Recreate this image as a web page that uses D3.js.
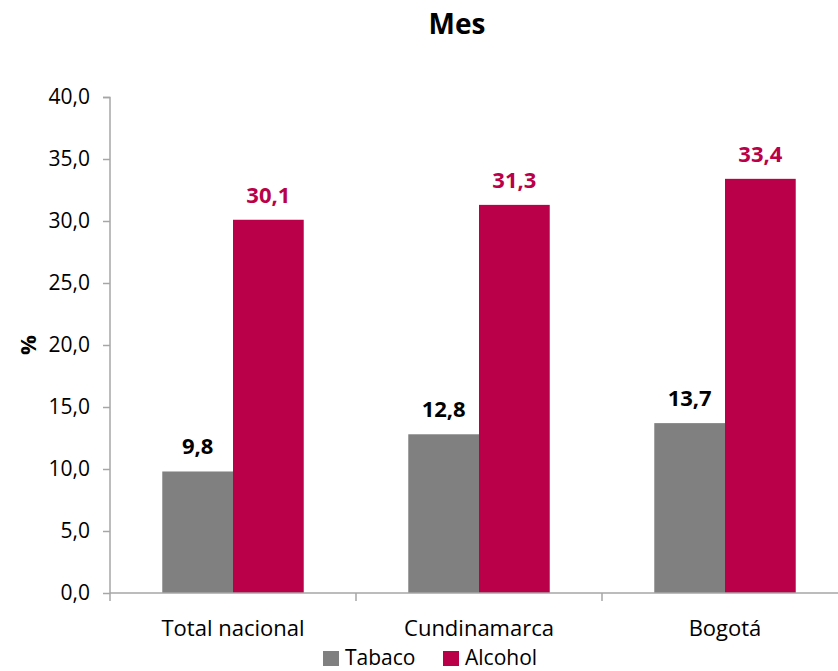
<!DOCTYPE html>
<html><head><meta charset="utf-8">
<script src="https://cdn.jsdelivr.net/npm/d3@7"></script>
<style>body{margin:0;background:#fff}svg{display:block}text{font-family:"Open Sans","Noto Sans",sans-serif}</style>
</head><body>
<svg id="c" width="838" height="671"></svg>
<script>
const categories = ["Total nacional", "Cundinamarca", "Bogotá"];
const seriesNames = ["Tabaco", "Alcohol"];
const tabaco = [9.8, 12.8, 13.7];
const alcohol = [30.1, 31.3, 33.4];
const yTicks = [0, 5, 10, 15, 20, 25, 30, 35, 40];
const colors = {Tabaco: "#808080", Alcohol: "#BA0049"};
const labelColors = {Tabaco: "#000000", Alcohol: "#BA0049"};

const svg = d3.select("#c");
const fmt = v => d3.format(".1f")(v).replace(".", ",");

const x = d3.scaleBand().domain(categories).range([110, 848]).padding(0);
const y = d3.scaleLinear().domain([0, 40]).range([593, 97]);
const inner = d3.scaleBand().domain(seriesNames).range([0, x.bandwidth() * 0.575]);
const offset = (x.bandwidth() - x.bandwidth() * 0.575) / 2;

const data = categories.map((c, i) => ({cat: c, Tabaco: tabaco[i], Alcohol: alcohol[i]}));

// bars
const g = svg.append("g");
data.forEach(d => {
  seriesNames.forEach(s => {
    g.append("rect")
      .attr("x", x(d.cat) + offset + inner(s))
      .attr("y", y(d[s]))
      .attr("width", inner.bandwidth())
      .attr("height", y(0) - y(d[s]))
      .attr("fill", colors[s]);
    g.append("text")
      .attr("x", x(d.cat) + offset + inner(s) + inner.bandwidth() / 2)
      .attr("y", y(d[s]) - 17)
      .attr("text-anchor", "middle")
      .attr("font-size", 22).attr("font-weight", "bold")
      .attr("fill", labelColors[s])
      .text(fmt(d[s]));
  });
});

// y axis
const yAxis = svg.append("g").attr("transform", "translate(110,0)")
  .call(d3.axisLeft(y).tickValues(yTicks).tickFormat(fmt).tickSize(7).tickPadding(13));
yAxis.selectAll("text").attr("font-size", 21).attr("fill", "#000").style("font-family", '"Open Sans","Noto Sans",sans-serif');
yAxis.selectAll("line,path").attr("stroke", "#a6a6a6").attr("stroke-width", 1.5);
yAxis.select("path").attr("d", "M-7,97.5H0V593");

// x axis
const xAxis = svg.append("g").attr("transform", "translate(0,593)");
xAxis.append("line").attr("x1", 110).attr("x2", 848).attr("y1", 0).attr("y2", 0)
  .attr("stroke", "#a6a6a6").attr("stroke-width", 1.5);
categories.forEach((c, i) => {
  xAxis.append("line").attr("x1", x(c)).attr("x2", x(c)).attr("y1", 0).attr("y2", 8)
    .attr("stroke", "#a6a6a6").attr("stroke-width", 1.5);
  xAxis.append("text").attr("x", x(c) + x.bandwidth() / 2).attr("y", 43)
    .attr("text-anchor", "middle").attr("font-size", 22).attr("fill", "#000").text(c);
});

// title
svg.append("text").attr("x", 457).attr("y", 34).attr("text-anchor", "middle")
  .attr("font-size", 28).attr("font-weight", "bold").text("Mes");

// y label
svg.append("text").attr("transform", "translate(36,345) rotate(-90)")
  .attr("text-anchor", "middle").attr("font-size", 22).attr("font-weight", "bold").text("%");

// legend
const leg = svg.append("g");
const legItems = [{name: "Tabaco", x: 323}, {name: "Alcohol", x: 443}];
legItems.forEach(l => {
  leg.append("rect").attr("x", l.x).attr("y", 651).attr("width", 16).attr("height", 15).attr("fill", colors[l.name]);
  leg.append("text").attr("x", l.x + 22).attr("y", 665).attr("font-size", 21).attr("fill", "#000").text(l.name);
});
</script>
</body></html>
